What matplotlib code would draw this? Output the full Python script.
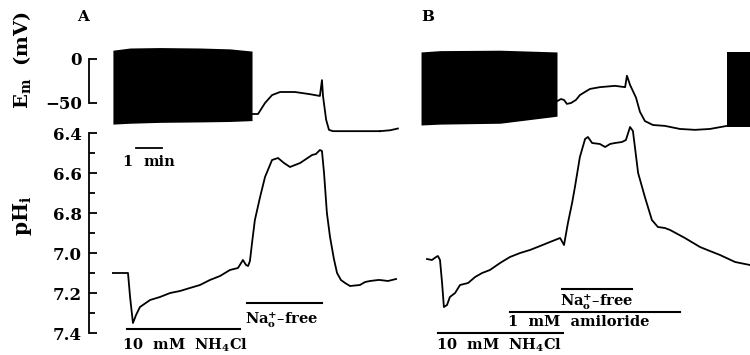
import matplotlib
matplotlib.use("Agg")
import matplotlib.pyplot as plt
from matplotlib.ticker import MultipleLocator

plt.rcParams['font.family'] = ['DejaVu Serif']
plt.rcParams['font.weight'] = 'bold'
plt.rcParams['mathtext.fontset'] = 'dejavuserif'
plt.rcParams['mathtext.default'] = 'bf'

# time in minutes, Em in mV, pHi in pH units

# panel A - membrane potential
em_blockA_t = [0.92, 1.58, 2.73, 4.27, 5.42, 6.27]
em_blockA_top = [10, 12.5, 13, 12.5, 11.5, 9]
em_blockA_bot = [-74, -73, -72, -71.5, -71, -70]
emA_t = [6.27, 6.50, 6.77, 7.04, 7.35, 7.92, 8.50, 8.88, 8.96, 9.00, 9.12, 9.23, 9.38, 11.19]
emA_v = [-62.5, -62.5, -50, -41, -37.5, -37.5, -40, -42, -24, -42, -69, -80.5, -82, -82]

# panel A - pHi
phA_t = [0.92, 1.50, 1.58, 1.69, 1.81, 1.96, 2.35, 2.73, 3.12, 3.50, 3.88, 4.27, 4.65,
         5.04, 5.42, 5.73, 5.85, 5.92, 6.04, 6.12, 6.19, 6.27, 6.38, 6.58, 6.77, 7.04,
         7.27, 7.50, 7.73, 8.12, 8.35, 8.58, 8.73, 8.88, 8.96, 9.04, 9.15, 9.27, 9.42,
         9.54, 9.69, 9.85, 10.04, 10.42, 10.62, 10.81, 11.12]
phA_v = [7.10, 7.10, 7.22, 7.35, 7.31, 7.27, 7.235, 7.22, 7.20, 7.19, 7.175, 7.16, 7.135,
         7.115, 7.085, 7.075, 7.05, 7.035, 7.06, 7.065, 7.04, 6.95, 6.835, 6.72, 6.62, 6.535,
         6.525, 6.55, 6.57, 6.55, 6.53, 6.51, 6.505, 6.485, 6.49, 6.6, 6.8, 6.92, 7.03,
         7.10, 7.135, 7.15, 7.165, 7.16, 7.145, 7.14, 7.135]

# panel B - membrane potential
emB0_t = [11.19, 11.58, 11.88]
emB0_v = [-82, -81, -79]
em_blockB_t = [12.77, 13.50, 15.81, 18.0]
em_blockB_top = [8, 9.5, 10, 8]
em_blockB_bot = [-75, -74, -73, -65]
emB_t = [18.0, 18.15, 18.27, 18.38, 18.54, 18.73, 18.88, 19.27, 19.65, 20.23, 20.62,
         20.69, 20.81, 21.04, 21.19, 21.38, 21.69, 22.15, 22.73, 23.31, 23.88, 24.54]
emB_v = [-48, -45.5, -46.5, -51, -50, -46.5, -41, -34, -32, -30.5, -32,
         -19, -29.5, -44, -60, -70.5, -75, -76, -79.5, -80.5, -79.5, -76]
em_block2_t = [24.54, 25.42]
em_block2_top = [8, 8]
em_block2_bot = [-77, -77]

# panel B - pHi
phB0_t = [11.19, 11.50, 11.81]
phB0_v = [7.135, 7.14, 7.13]
phB_t = [13.0, 13.19, 13.35, 13.42, 13.50, 13.58, 13.65, 13.77, 13.88, 14.08, 14.27,
         14.58, 14.85, 15.12, 15.42, 15.81, 16.19, 16.58, 16.96, 17.35, 17.73, 18.12,
         18.27, 18.42, 18.58, 18.69, 18.88, 19.08, 19.19, 19.35, 19.65, 19.85, 20.04,
         20.23, 20.50, 20.65, 20.81, 20.92, 21.12, 21.38, 21.65, 21.88, 22.15, 22.35,
         22.92, 23.50, 23.88, 24.27, 24.85, 25.42]
phB_v = [7.03, 7.035, 7.02, 7.015, 7.035, 7.15, 7.27, 7.26, 7.22, 7.20, 7.16,
         7.15, 7.12, 7.10, 7.085, 7.05, 7.02, 7.00, 6.985, 6.965, 6.945, 6.925,
         6.96, 6.85, 6.75, 6.67, 6.52, 6.43, 6.42, 6.45, 6.455, 6.47, 6.455,
         6.45, 6.445, 6.435, 6.37, 6.39, 6.6, 6.72, 6.835, 6.87, 6.875, 6.885,
         6.925, 6.97, 6.99, 7.01, 7.045, 7.06]

# solution bars: (start, end, pH level, label, label x, label y)
bars = [
    (1.46, 5.81, 7.38, r"10  mM  NH$_4$Cl", 1.27, 7.46),
    (6.08, 8.96, 7.25, r"Na$_\mathbf{o}^\mathbf{+}$–free", 6.0, 7.335),
    (13.42, 18.23, 7.40, r"10  mM  NH$_4$Cl", 13.35, 7.46),
    (16.19, 22.73, 7.295, r"1  mM  amiloride", 16.12, 7.345),
    (18.19, 20.88, 7.18, r"Na$_\mathbf{o}^\mathbf{+}$–free", 18.12, 7.245),
]

W, H = 750, 355
fig = plt.figure(figsize=(7.5, 3.55), dpi=100)

def px_axes(x0, y0, x1, y1):
    return fig.add_axes([x0 / W, 1 - y1 / H, (x1 - x0) / W, (y1 - y0) / H])

tmax = (750 - 89) / 26

ax_em = px_axes(89, 30, 750, 140)
ax_em.set_xlim(0, tmax)
ax_em.set_ylim((59 - 140) / 0.88, (59 - 30) / 0.88)

ax_ph = px_axes(89, 118, 750, 350)
ax_ph.set_xlim(0, tmax)
ax_ph.set_ylim(6.4 + (350 - 133) / 200, 6.4 + (118 - 133) / 200)

for ax in (ax_em, ax_ph):
    ax.patch.set_visible(False)
    for s in ['top', 'right', 'bottom']:
        ax.spines[s].set_visible(False)
    ax.spines['left'].set_linewidth(1.3)
    ax.set_xticks([])
    ax.tick_params(axis='y', direction='in', width=1.3, labelsize=12, pad=5)
    ax.tick_params(axis='y', which='major', length=6)
    ax.tick_params(axis='y', which='minor', direction='in', width=1.3, length=4)

ax_em.spines['left'].set_bounds(-50, 0)
ax_em.set_yticks([0, -50])
ax_em.set_yticklabels(['0', '−50'])

ax_ph.spines['left'].set_bounds(7.4, 6.4)
ax_ph.set_yticks([6.4, 6.6, 6.8, 7.0, 7.2, 7.4])
ax_ph.set_yticklabels(['6.4', '6.6', '6.8', '7.0', '7.2', '7.4'])
ax_ph.yaxis.set_minor_locator(MultipleLocator(0.1))

lw = 1.3
ax_em.fill_between(em_blockA_t, em_blockA_bot, em_blockA_top, color='black', lw=0)
ax_em.plot(emA_t, emA_v, color='black', lw=lw, clip_on=False)
ax_em.plot(emB0_t, emB0_v, color='black', lw=lw, clip_on=False)
ax_em.fill_between(em_blockB_t, em_blockB_bot, em_blockB_top, color='black', lw=0)
ax_em.plot(emB_t, emB_v, color='black', lw=lw, clip_on=False)
ax_em.fill_between(em_block2_t, em_block2_bot, em_block2_top, color='black', lw=0)

ax_ph.plot(phA_t, phA_v, color='black', lw=lw, clip_on=False)
ax_ph.plot(phB0_t, phB0_v, color='black', lw=lw, clip_on=False)
ax_ph.plot(phB_t, phB_v, color='black', lw=lw, clip_on=False)

for t0, t1, lev, lab, lx, ly in bars:
    ax_ph.plot([t0, t1], [lev, lev], color='black', lw=1.5, clip_on=False)
    ax_ph.text(lx, ly, lab, fontsize=10.5, ha='left', va='center', clip_on=False)

# 1 min scale bar
ax_ph.plot([1.81, 2.81], [6.475, 6.475], color='black', lw=1.3)
ax_ph.text(1.27, 6.545, "1", fontsize=10.5, ha='left', va='center')
ax_ph.text(2.08, 6.545, "min", fontsize=10.5, ha='left', va='center')

fig.text(83 / W, 1 - 17 / H, "A", fontsize=11, ha='center', va='center')
fig.text(428 / W, 1 - 17 / H, "B", fontsize=11, ha='center', va='center')
fig.text(22 / W, 1 - 60 / H, r"E$_m$  (mV)", fontsize=14, rotation=90, ha='center', va='center')
fig.text(22 / W, 1 - 216 / H, r"pH$_i$", fontsize=14.5, rotation=90, ha='center', va='center')

fig.savefig("out.png", dpi=100)
